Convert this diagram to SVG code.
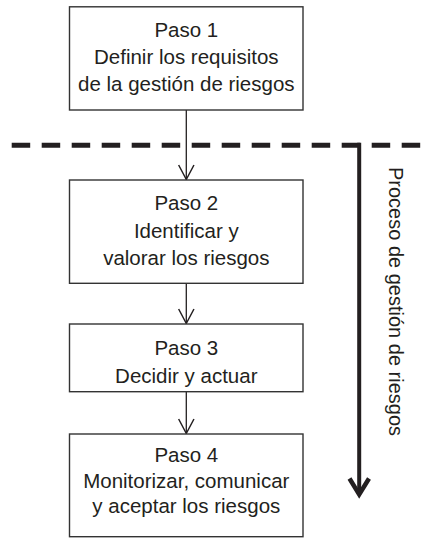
<svg xmlns="http://www.w3.org/2000/svg" width="422" height="538" viewBox="0 0 422 538">
<style>
.box{fill:#fff;stroke:#333;stroke-width:1.4}
.t{font-family:"Liberation Sans",Arial,sans-serif;font-size:20.5px;fill:#231f20;text-anchor:middle}
.c{stroke:#231f20;stroke-width:1.3;fill:none}
</style>
<defs>
<marker id="ah" markerUnits="userSpaceOnUse" markerWidth="16" markerHeight="16" refX="13" refY="7" orient="auto" viewBox="0 0 14 14" overflow="visible">
<path d="M0.3 0.3 L13 7 L0.3 13.7" fill="none" stroke="#231f20" stroke-width="1.3"/>
</marker>
</defs>
<g id="separator">
<line x1="11.7" y1="145.3" x2="422" y2="145.3" stroke="#231f20" stroke-width="5" stroke-dasharray="18.5 11.5"/>
</g>
<g id="process-arrow">
<path d="M359.2 142.8 V494" stroke="#231f20" stroke-width="4" fill="none"/>
<path d="M349.5 478.5 L359.2 494.5 L369 478.5" stroke="#231f20" stroke-width="4.5" fill="none" stroke-linejoin="miter"/>
<text class="t" style="text-anchor:start;font-size:20px" transform="translate(389 167) rotate(90)">Proceso de gestión de riesgos</text>
</g>
<g id="connectors">
<path class="c" d="M186.3 110 V179.5" marker-end="url(#ah)"/>
<path class="c" d="M186.3 283.3 V323.5" marker-end="url(#ah)"/>
<path class="c" d="M186.3 391.7 V433.5" marker-end="url(#ah)"/>
</g>
<g id="step1">
<rect class="box" x="69.5" y="6.8" width="233.5" height="103.2"/>
<text class="t" x="186.3" y="36.7">Paso 1</text>
<text class="t" x="186.3" y="64.3">Definir los requisitos</text>
<text class="t" x="186.3" y="91">de la gestión de riesgos</text>
</g>
<g id="step2">
<rect class="box" x="69.5" y="180" width="233.5" height="103.3"/>
<text class="t" x="186.3" y="210">Paso 2</text>
<text class="t" x="186.3" y="238.3">Identificar y</text>
<text class="t" x="186.3" y="265">valorar los riesgos</text>
</g>
<g id="step3">
<rect class="box" x="69.5" y="324" width="233.5" height="67.7"/>
<text class="t" x="186.3" y="355">Paso 3</text>
<text class="t" x="186.3" y="383.3">Decidir y actuar</text>
</g>
<g id="step4">
<rect class="box" x="69.5" y="434" width="233.5" height="102.7"/>
<text class="t" x="186.3" y="461.7">Paso 4</text>
<text class="t" x="186.3" y="488.3">Monitorizar, comunicar</text>
<text class="t" x="186.3" y="513.3">y aceptar los riesgos</text>
</g>
</svg>
